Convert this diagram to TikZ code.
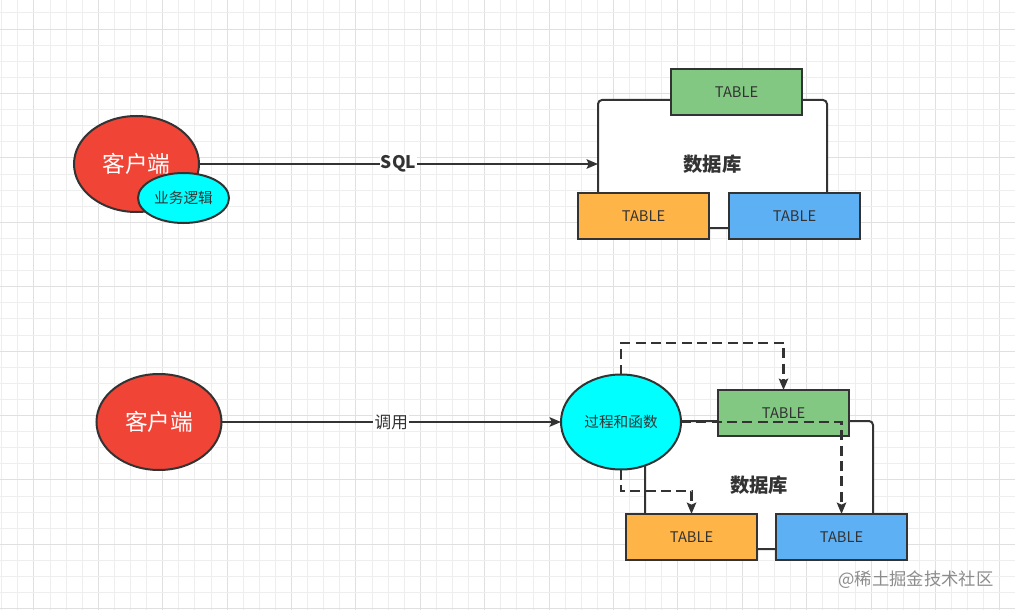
\documentclass[tikz,border=0pt]{standalone}
\usepackage{fontspec}
\setmainfont{Noto Sans CJK SC}
\usetikzlibrary{shapes.geometric,arrows.meta}
\definecolor{ink}{HTML}{333333}
\definecolor{cred}{HTML}{F04437}
\definecolor{ccyan}{HTML}{00FFFF}
\definecolor{cgreen}{HTML}{82C882}
\definecolor{corange}{HTML}{FFB447}
\definecolor{cblue}{HTML}{5EB0F5}
\definecolor{gminor}{HTML}{EEEEEE}
\definecolor{gmajor}{HTML}{E0E0E0}
\tikzset{
  conn/.style={draw=ink, line width=1.6pt, -{Stealth[length=8.5pt,width=7pt,inset=1.5pt]}},
  dconn/.style={conn, dash pattern=on 7.5pt off 4pt},
  redell/.style={ellipse, draw=ink, line width=1.5pt, fill=cred, text=white, font=\fontsize{17pt}{19pt}\selectfont, minimum width=93.75pt, minimum height=72pt, inner sep=0pt, outer sep=0pt},
  cyanell/.style={ellipse, draw=ink, line width=1.5pt, fill=ccyan, text=ink, font=\fontsize{11pt}{13pt}\selectfont, inner sep=0pt, outer sep=0pt},
  tablebox/.style={rectangle, draw=ink, line width=1.5pt, text=ink, font=\fontsize{11pt}{13pt}\selectfont, minimum width=98.25pt, minimum height=34.5pt, inner sep=0pt, outer sep=0pt},
  dbbox/.style={rectangle, rounded corners=3pt, draw=ink, line width=1.5pt, fill=white, text=ink, font=\bfseries\fontsize{14.5pt}{16pt}\selectfont, inner sep=0pt, outer sep=0pt},
  elabel/.style={fill=white, inner sep=1pt, text=ink}
}
\begin{document}
\begin{tikzpicture}[x=0.75pt,y=-0.75pt]
\useasboundingbox (0,0) rectangle (1015,610);
\fill[white] (0,0) rectangle (1015,610);
% grid
\foreach \i in {0,...,63}{
  \pgfmathtruncatemacro{\m}{mod(\i,4)}
  \ifnum\m=2 \def\gc{gmajor}\else\def\gc{gminor}\fi
  \draw[\gc, line width=0.75pt] (1.7+16.1*\i,0) -- (1.7+16.1*\i,610);
}
\foreach \j in {0,...,37}{
  \pgfmathtruncatemacro{\m}{mod(\j,4)}
  \ifnum\m=1 \def\gc{gmajor}\else\def\gc{gminor}\fi
  \draw[\gc, line width=0.75pt] (0,13+16.1*\j) -- (1015,13+16.1*\j);
}

% ---------- top ----------
\node[dbbox, minimum width=171.75pt, minimum height=96pt] (db1) at (712.5,164) {数据库};
\node[redell] (c1) at (136.5,164) {客户端};
\node[cyanell, minimum width=68.25pt, minimum height=37.5pt] (bl) at (183.5,198) {业务逻辑};
\node[tablebox, fill=cgreen]  (g1) at (736.5,92) {TABLE};
\node[tablebox, fill=corange] (o1) at (643.5,216) {TABLE};
\node[tablebox, fill=cblue]   (b1) at (794.5,216) {TABLE};
\draw[conn] (c1.east) -- node[elabel, font=\bfseries\fontsize{13pt}{15pt}\selectfont]{SQL} (db1.west);

% ---------- bottom ----------
\node[dbbox, minimum width=171pt, minimum height=96pt] (db2) at (759,485) {数据库};
\node[redell] (c2) at (159,422) {客户端};
\node[cyanell, minimum width=90pt, minimum height=71.25pt] (f) at (621,422) {过程和函数};
\node[tablebox, fill=cgreen]  (g2) at (783.5,413) {TABLE};
\node[tablebox, fill=corange] (o2) at (691.5,537) {TABLE};
\node[tablebox, fill=cblue]   (b2) at (841.5,537) {TABLE};
\draw[conn] (c2.east) -- node[elabel, font=\fontsize{12.5pt}{14pt}\selectfont]{调用} (f.west);
\draw[dconn] (f.north) -- (f.north |- 0,343) -| (g2.north);
\draw[dconn] (f.east) -| (b2.north);
\draw[dconn] (f.south) -- (f.south |- 0,491) -| (o2.north);

% watermark
\node[text=black!45, font=\fontsize{13pt}{15pt}\selectfont, inner sep=0pt] (wm) at (916,580) {@稀土掘金技术社区};
\end{tikzpicture}
\end{document}
